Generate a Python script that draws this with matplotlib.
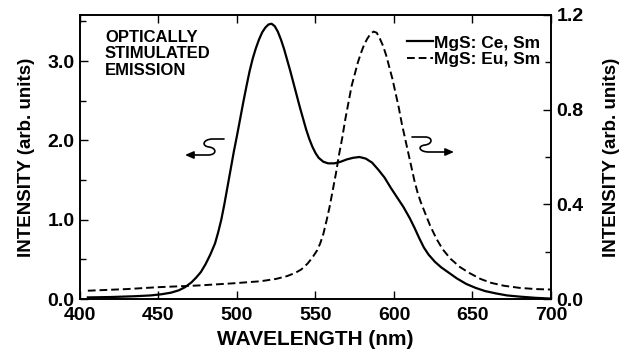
import matplotlib
matplotlib.use("Agg")
import matplotlib.pyplot as plt
from matplotlib.path import Path
from matplotlib.patches import FancyArrowPatch
from matplotlib.ticker import MultipleLocator, FormatStrFormatter

plt.rcParams['font.family'] = ['Liberation Sans', 'DejaVu Sans']

# MgS:Ce,Sm (left axis)
wl_ce = [405, 420, 435, 445, 452, 458, 463, 467, 471, 474, 477, 480, 483, 486, 488, 490, 492,
         494, 496, 498, 500, 502, 504, 506, 508, 510, 512, 514, 516, 518, 520, 522, 524, 526,
         528, 530, 532, 534, 536, 538, 540, 542, 544, 546, 548, 550, 552, 555, 558, 562, 566,
         570, 574, 578, 582, 586, 590, 594, 598, 602, 606, 610, 613, 616, 619, 622, 626, 630,
         635, 640, 646, 652, 658, 665, 672, 680, 690, 700]
int_ce = [0.02, 0.025, 0.035, 0.045, 0.06, 0.08, 0.11, 0.15, 0.21, 0.27, 0.34, 0.44, 0.56, 0.70,
          0.84, 1.00, 1.20, 1.42, 1.64, 1.86, 2.06, 2.27, 2.48, 2.68, 2.87, 3.03, 3.16, 3.27, 3.36,
          3.42, 3.46, 3.47, 3.44, 3.37, 3.27, 3.15, 3.01, 2.87, 2.72, 2.57, 2.42, 2.28, 2.14, 2.02,
          1.92, 1.84, 1.78, 1.73, 1.71, 1.71, 1.73, 1.76, 1.78, 1.79, 1.77, 1.72, 1.63, 1.53, 1.40,
          1.28, 1.16, 1.02, 0.90, 0.77, 0.65, 0.56, 0.47, 0.40, 0.33, 0.26, 0.19, 0.14, 0.10, 0.07,
          0.045, 0.03, 0.015, 0.005]

# MgS:Eu,Sm (right axis)
wl_eu = [405, 430, 450, 475, 497, 515, 525, 532, 537, 541, 545, 548, 551, 553, 555, 557, 559,
         561, 563, 565, 567, 569, 571, 573, 575, 577, 579, 581, 583, 585, 587, 589, 591, 593,
         595, 597, 599, 601, 603, 605, 607, 609, 611, 613, 615, 617, 620, 623, 627, 631, 636,
         642, 648, 655, 662, 670, 680, 690, 700]
int_eu = [0.035, 0.042, 0.05, 0.057, 0.066, 0.075, 0.085, 0.097, 0.11, 0.125, 0.15, 0.175, 0.205,
          0.235, 0.275, 0.33, 0.39, 0.46, 0.53, 0.61, 0.68, 0.76, 0.83, 0.90, 0.95, 1.00, 1.04,
          1.075, 1.10, 1.12, 1.13, 1.125, 1.10, 1.07, 1.03, 0.98, 0.93, 0.87, 0.81, 0.74, 0.68,
          0.62, 0.56, 0.50, 0.45, 0.41, 0.36, 0.31, 0.255, 0.21, 0.17, 0.135, 0.11, 0.085, 0.068,
          0.056, 0.047, 0.042, 0.04]

labels = ['MgS: Ce, Sm', 'MgS: Eu, Sm']
x_ticks = [400, 450, 500, 550, 600, 650, 700]

W, H = 630, 350
fig = plt.figure(figsize=(W / 100, H / 100), dpi=100)
ax = fig.add_axes([80 / W, 1 - 299 / H, (551 - 80) / W, (299 - 15) / H])
ax2 = ax.twinx()

l1, = ax.plot(wl_ce, int_ce, color='black', lw=1.6, solid_joinstyle='round')
l2, = ax2.plot(wl_eu, int_eu, color='black', lw=1.4, linestyle=(0, (4, 2)))

ax.set_xlim(400, 700)
ax.set_ylim(0, 3.58)
ax2.set_ylim(0, 1.2)
ax.set_xticks(x_ticks)
ax.yaxis.set_major_locator(MultipleLocator(1.0))
ax.yaxis.set_minor_locator(MultipleLocator(0.5))
ax2.yaxis.set_major_locator(MultipleLocator(0.4))
ax2.yaxis.set_minor_locator(MultipleLocator(0.2))
ax.yaxis.set_major_formatter(FormatStrFormatter('%.1f'))
ax2.yaxis.set_major_formatter(FormatStrFormatter('%.1f'))

ax.tick_params(axis='x', direction='in', length=6, width=1, top=True, pad=6, labelsize=14)
ax.tick_params(axis='y', which='major', direction='in', length=6, width=1, pad=4, labelsize=14)
ax.tick_params(axis='y', which='minor', direction='in', length=4, width=1)
ax2.tick_params(axis='y', which='major', direction='in', length=6, width=1, pad=4, labelsize=14)
ax2.tick_params(axis='y', which='minor', direction='in', length=4, width=1)
for lab in ax.get_xticklabels() + ax.get_yticklabels() + ax2.get_yticklabels():
    lab.set_fontweight('bold')

for a in (ax, ax2):
    for s in a.spines.values():
        s.set_linewidth(1.2)

ax.set_xlabel('WAVELENGTH (nm)', fontsize=15, fontweight='bold', labelpad=4)
ax.set_ylabel('INTENSITY (arb. units)', fontsize=13.5, fontweight='bold', labelpad=9)
ax2.set_ylabel('INTENSITY (arb. units)', fontsize=13.5, fontweight='bold', labelpad=14)

ax.text(105 / W, 1 - 30 / H, 'OPTICALLY\nSTIMULATED\nEMISSION', transform=fig.transFigure,
        fontsize=12, fontweight='bold', va='top', ha='left', linespacing=1.12)

leg = ax.legend([l1, l2], labels, loc='upper right', bbox_to_anchor=(1.0, 0.965),
                frameon=False, handlelength=1.5, handletextpad=0.1, borderaxespad=0.2,
                labelspacing=0.1, fontsize=12.5)
for t in leg.get_texts():
    t.set_fontweight('bold')

def fp(x, y):
    return (x / W, 1 - y / H)

# left squiggle arrow
vl = [fp(224, 139), fp(213, 139),
      fp(203, 139), fp(201, 146), fp(209, 147),
      fp(217, 148), fp(217, 155), fp(208, 155),
      fp(185, 155)]
cl = [Path.MOVETO, Path.LINETO, Path.CURVE4, Path.CURVE4, Path.CURVE4,
      Path.CURVE4, Path.CURVE4, Path.CURVE4, Path.LINETO]
pa = FancyArrowPatch(path=Path(vl, cl), arrowstyle='-|>,head_length=5,head_width=2.2',
                     color='black', lw=1.2, transform=fig.transFigure)
fig.patches.append(pa)

# right squiggle arrow
vr = [fp(412, 137), fp(425, 137),
      fp(433, 137), fp(433, 144), fp(425, 145),
      fp(417, 146), fp(419, 152), fp(429, 152),
      fp(454, 152)]
cr = [Path.MOVETO, Path.LINETO, Path.CURVE4, Path.CURVE4, Path.CURVE4,
      Path.CURVE4, Path.CURVE4, Path.CURVE4, Path.LINETO]
pb = FancyArrowPatch(path=Path(vr, cr), arrowstyle='-|>,head_length=5,head_width=2.2',
                     color='black', lw=1.2, transform=fig.transFigure)
fig.patches.append(pb)

fig.savefig('out.png', dpi=100)
